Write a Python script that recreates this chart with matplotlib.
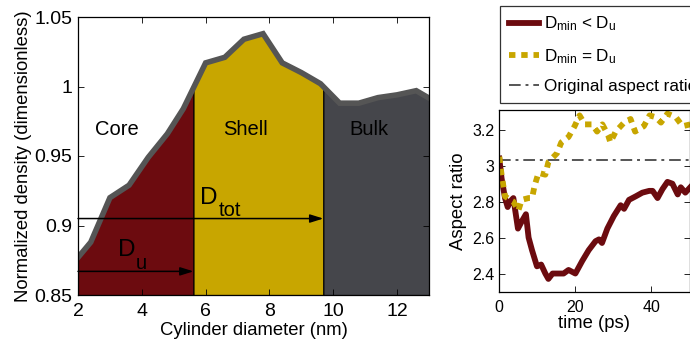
import numpy as np
import matplotlib
matplotlib.use('Agg')
import matplotlib.pyplot as plt
from matplotlib.ticker import FormatStrFormatter

plt.rcParams['font.family'] = ['Liberation Sans', 'DejaVu Sans']
plt.rcParams['mathtext.fontset'] = 'custom'
plt.rcParams['mathtext.rm'] = 'Liberation Sans'

# density profile (left panel)
diam = [2.0, 2.4, 3.0, 3.6, 4.2, 4.8, 5.3, 6.0, 6.6, 7.2, 7.8, 8.4, 9.0, 9.6,
        10.2, 10.8, 11.4, 12.0, 12.6, 13.2]
density = [0.877, 0.888, 0.920, 0.929, 0.949, 0.966, 0.984, 1.017, 1.021, 1.034,
           1.038, 1.017, 1.010, 1.002, 0.988, 0.988, 0.992, 0.994, 0.997, 0.989]
d_u = 5.62
d_tot = 9.69
region_names = ['Core', 'Shell', 'Bulk']
region_x = [3.22, 7.24, 11.13]

# aspect ratio vs time (right panel)
t_lo = [0.0, 0.6, 1.5, 2.2, 2.8, 3.7, 4.9, 5.9, 7.0, 7.7, 8.6, 9.9, 11.0, 12.1,
        12.9, 14.0, 15.2, 16.9, 18.2, 20.0, 21.8, 23.5, 25.3, 26.2, 27.0, 28.4,
        30.1, 31.9, 32.8, 34.1, 35.9, 37.6, 39.4, 40.3, 41.6, 42.9, 44.2, 45.5,
        46.9, 47.7, 48.9, 50.2]
ar_lo = [3.04, 2.93, 2.82, 2.77, 2.80, 2.82, 2.65, 2.69, 2.73, 2.60, 2.53, 2.44,
         2.45, 2.40, 2.37, 2.40, 2.40, 2.40, 2.42, 2.40, 2.47, 2.53, 2.58, 2.59,
         2.57, 2.65, 2.72, 2.78, 2.76, 2.81, 2.83, 2.85, 2.86, 2.86, 2.82, 2.87,
         2.91, 2.90, 2.84, 2.88, 2.85, 2.88]
t_eq = [0.0, 0.6, 1.5, 2.8, 3.7, 5.0, 5.9, 7.7, 8.6, 9.3, 10.3, 12.1, 12.9, 15.2,
        16.3, 18.2, 19.8, 21.1, 22.5, 24.4, 25.7, 27.1, 28.6, 29.2, 30.6, 32.8,
        34.5, 35.7, 38.0, 39.5, 41.1, 42.5, 44.2, 46.4, 48.2, 50.2]
ar_eq = [3.05, 2.95, 2.83, 2.81, 2.80, 2.75, 2.81, 2.82, 2.82, 2.89, 2.96, 2.95,
         3.02, 3.07, 3.13, 3.16, 3.22, 3.28, 3.23, 3.23, 3.19, 3.23, 3.17, 3.13,
         3.19, 3.24, 3.26, 3.19, 3.22, 3.28, 3.27, 3.24, 3.29, 3.27, 3.22, 3.23]
ar_orig = 3.03

red = '#6C0B0F'
yellow = '#C8A600'
gray = '#45464B'

fig = plt.figure(figsize=(6.9, 3.43), dpi=100)

# ---- left panel
ax = fig.add_axes([78/690, 1-295/343, 351/690, 278/343])
x = np.array(diam)
y = np.array(density)
bounds = [2.0, d_u, d_tot, x[-1]]
colors = [red, yellow, gray]
for i in range(3):
    a, b = bounds[i], bounds[i+1]
    xs = np.concatenate([[a], x[(x > a) & (x < b)], [b]])
    ys = np.interp(xs, x, y)
    ax.fill_between(xs, 0.85, ys, facecolor=colors[i], edgecolor='k', lw=0.8)
ax.plot(x, y, color='#555555', lw=4, solid_joinstyle='miter')

for name, px in zip(region_names, region_x):
    ax.text(px, 0.969, name, fontsize=14.5, ha='center', va='center')

ax.annotate('', xy=(d_tot, 0.905), xytext=(2.0, 0.905),
            arrowprops=dict(arrowstyle='-|>,head_length=0.8,head_width=0.25',
                            color='k', lw=1.1, shrinkA=0, shrinkB=0))
ax.annotate('', xy=(d_u, 0.867), xytext=(2.0, 0.867),
            arrowprops=dict(arrowstyle='-|>,head_length=0.8,head_width=0.25',
                            color='k', lw=1.1, shrinkA=0, shrinkB=0))
ax.text(5.83, 0.9157, 'D', fontsize=17.5, ha='left', va='baseline')
ax.text(6.40, 0.9066, 'tot', fontsize=14.5, ha='left', va='baseline')
ax.text(3.24, 0.8783, 'D', fontsize=17.5, ha='left', va='baseline')
ax.text(3.80, 0.8687, 'u', fontsize=14.5, ha='left', va='baseline')

ax.set_xlim(2, 13)
ax.set_ylim(0.85, 1.05)
ax.set_xticks([2, 4, 6, 8, 10, 12])
ax.set_yticks([0.85, 0.9, 0.95, 1.0, 1.05])
ax.yaxis.set_major_formatter(FormatStrFormatter('%g'))
ax.tick_params(direction='in', top=True, right=True, length=4, width=0.6,
               labelsize=14)
ax.tick_params(axis='x', pad=6)
ax.tick_params(axis='y', pad=4)
ax.set_xlabel('Cylinder diameter (nm)', fontsize=13.3, labelpad=1)
ax.set_ylabel('Normalized density (dimensionless)', fontsize=13.3, labelpad=2)
for s in ax.spines.values():
    s.set_linewidth(0.9)

# ---- right panel
ax2 = fig.add_axes([499.3/690, 1-291.5/343, 190.2/690, 181.5/343])
ax2.axhline(ar_orig, color='#555555', lw=1.4, ls=(0, (6, 2.5, 1.5, 2.5)),
            label='Original aspect ratio')
l1, = ax2.plot(t_lo, ar_lo, color=red, lw=4.2)
l2, = ax2.plot(t_eq, ar_eq, color=yellow, lw=4.2, ls=(0, (1.1, 1.0)),
               dash_capstyle='butt')
ax2.set_xlim(0, 50)
ax2.set_ylim(2.3, 3.31)
ax2.set_xticks([0, 20, 40])
ax2.set_yticks([2.4, 2.6, 2.8, 3.0, 3.2])
ax2.yaxis.set_major_formatter(FormatStrFormatter('%g'))
ax2.tick_params(direction='in', top=True, right=True, length=4, width=0.6,
                labelsize=11.5)
ax2.tick_params(axis='x', pad=6)
ax2.set_xlabel('time (ps)', fontsize=13.3, labelpad=0)
ax2.set_ylabel('Aspect ratio', fontsize=13.3, labelpad=4)
for s in ax2.spines.values():
    s.set_linewidth(0.9)

handles = [l1, l2, ax2.lines[0]]
labels = [r'$\mathregular{D_{min}}$ < $\mathregular{D_u}$',
          r'$\mathregular{D_{min}}$ = $\mathregular{D_u}$',
          'Original aspect ratio']
leg = fig.legend(handles, labels, loc='upper left',
                 bbox_to_anchor=(500/690, 1-6/343), borderaxespad=0,
                 fontsize=12.3, handlelength=1.8, handletextpad=0.25,
                 labelspacing=0.8, borderpad=0.5, fancybox=False)
leg.get_frame().set_edgecolor('k')
leg.get_frame().set_linewidth(0.9)

fig.savefig('out.png', dpi=100)
